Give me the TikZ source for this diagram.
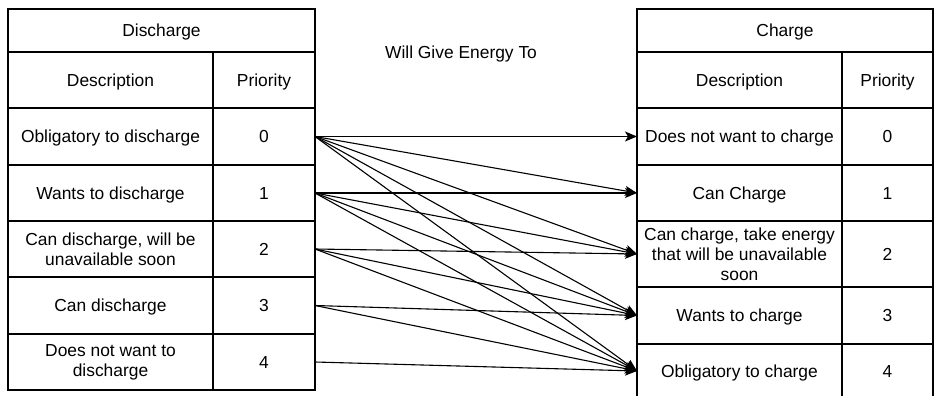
\documentclass[tikz,border=0pt]{standalone}
\usepackage{fontspec}
\setmainfont{Liberation Sans}
\usetikzlibrary{arrows.meta}
\begin{document}
\begin{tikzpicture}[x=1pt,y=-1pt,
  cell/.style={draw, rectangle, inner sep=0pt, outer sep=0pt, line width=1.3pt, align=center,
    font=\fontsize{17.4}{20}\selectfont, anchor=north west},
  one/.style={cell, text height=12.5pt, text depth=0pt},
  link/.style={line width=1.1pt, -{Stealth[length=12pt,width=10pt,inset=3pt]}},
  lbl/.style={font=\fontsize{17.4}{20}\selectfont, inner sep=0pt, text height=12.5pt, text depth=0pt}]
\useasboundingbox (0,0) rectangle (934,396);
\clip (0,0) rectangle (934,396);
% left table
\node[one, minimum width=307pt, minimum height=43pt] (LH) at (8,9) {Discharge};
\node[one, minimum width=205pt, minimum height=56pt] (LD) at (8,52) {Description};
\node[one, minimum width=102pt, minimum height=56pt] (LP) at (213,52) {Priority};
\node[one, minimum width=205pt, minimum height=57pt] (LD0) at (8,108) {Obligatory to discharge};
\node[one, minimum width=102pt, minimum height=57pt] (L0) at (213,108) {0};
\node[one, minimum width=205pt, minimum height=56pt] (LD1) at (8,165) {Wants to discharge};
\node[one, minimum width=102pt, minimum height=56pt] (L1) at (213,165) {1};
\node[cell, minimum width=205pt, minimum height=56pt] (LD2) at (8,221) {Can discharge, will be\\unavailable soon};
\node[one, minimum width=102pt, minimum height=56pt] (L2) at (213,221) {2};
\node[one, minimum width=205pt, minimum height=57pt] (LD3) at (8,277) {Can discharge};
\node[one, minimum width=102pt, minimum height=57pt] (L3) at (213,277) {3};
\node[cell, minimum width=205pt, minimum height=56pt] (LD4) at (8,334) {Does not want to\\discharge};
\node[one, minimum width=102pt, minimum height=56pt] (L4) at (213,334) {4};
% right table
\node[one, minimum width=296pt, minimum height=43pt] (RH) at (637,9) {Charge};
\node[one, minimum width=205pt, minimum height=56pt] (RD) at (637,52) {Description};
\node[one, minimum width=91pt, minimum height=56pt] (RP) at (842,52) {Priority};
\node[one, minimum width=205pt, minimum height=57pt] (R0) at (637,108) {Does not want to charge};
\node[one, minimum width=91pt, minimum height=57pt] (RP0) at (842,108) {0};
\node[one, minimum width=205pt, minimum height=56pt] (R1) at (637,165) {Can Charge};
\node[one, minimum width=91pt, minimum height=56pt] (RP1) at (842,165) {1};
\node[cell, minimum width=205pt, minimum height=66pt] (R2) at (637,221) {Can charge, take energy\\that will be unavailable\\soon};
\node[one, minimum width=91pt, minimum height=66pt] (RP2) at (842,221) {2};
\node[one, minimum width=205pt, minimum height=57pt] (R3) at (637,287) {Wants to charge};
\node[one, minimum width=91pt, minimum height=57pt] (RP3) at (842,287) {3};
\node[one, minimum width=205pt, minimum height=54pt] (R4) at (637,344) {Obligatory to charge};
\node[one, minimum width=91pt, minimum height=54pt] (RP4) at (842,344) {4};
% label
\node[lbl] (T) at (461,52) {Will Give Energy To};
% links
\foreach \i in {0,...,4}{
  \foreach \j in {\i,...,4}{
    \draw[link] (L\i.east) -- (R\j.west);
  }
}
\end{tikzpicture}
\end{document}
